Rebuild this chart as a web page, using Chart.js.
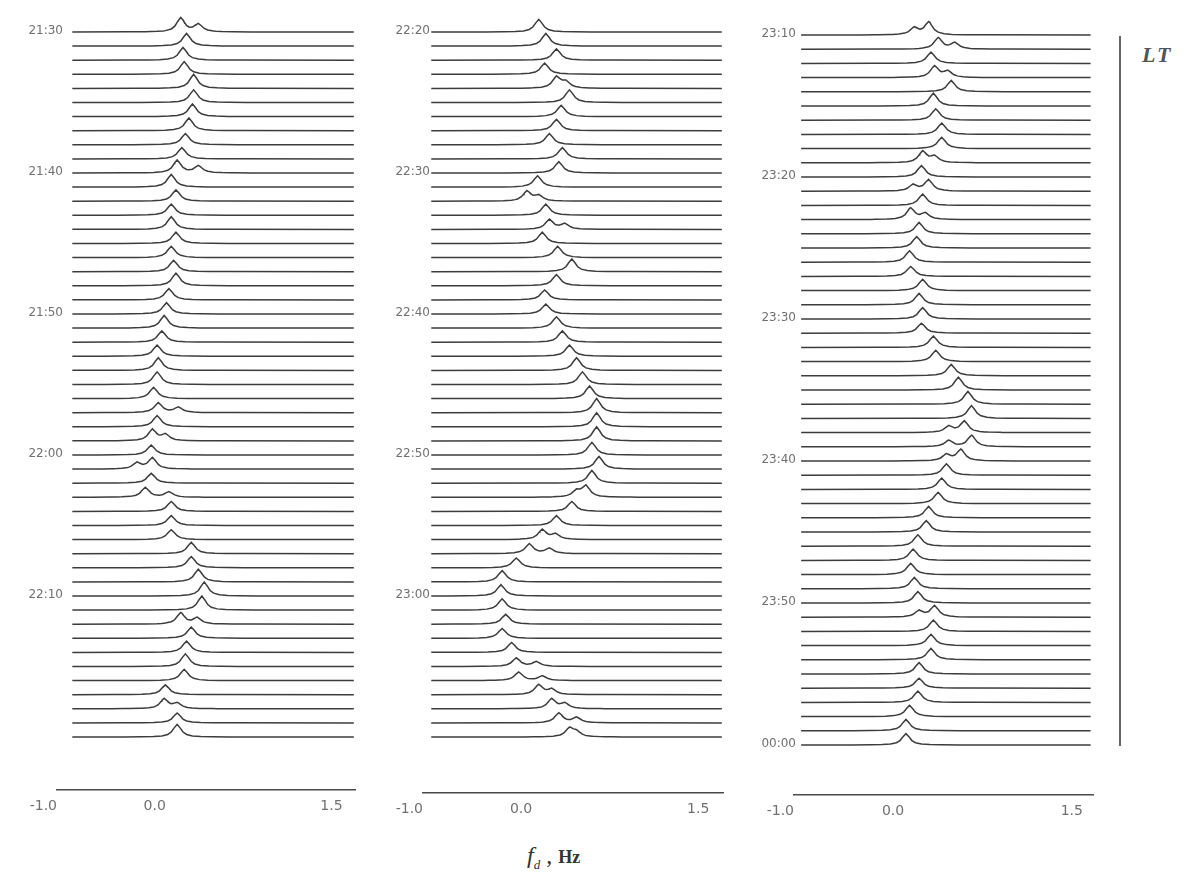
<!DOCTYPE html>
<html>
<head>
<meta charset="utf-8">
<script src="https://cdn.jsdelivr.net/npm/chart.js"></script>
<style>
  body { margin: 0; background: #fff; width: 1190px; height: 878px; position: relative; overflow: hidden; }
  canvas.panel { position: absolute; top: 0; }
  #ltLine { position: absolute; left: 1119px; top: 36px; width: 2px; height: 710px; background: #666; }
  #ltText { position: absolute; left: 1142px; top: 42px; font: italic bold 22px "Liberation Serif", serif; color: #555; letter-spacing: 2px; }
  #xTitle { position: absolute; left: 527px; top: 842px; font: 24px "Liberation Serif", serif; color: #333; }
  #xTitle sub { font-size: 13px; }
  #xTitle b { font-size: 18px; }
</style>
</head>
<body>
<canvas id="panel1" class="panel"></canvas>
<canvas id="panel2" class="panel"></canvas>
<canvas id="panel3" class="panel"></canvas>
<div id="ltLine"></div>
<div id="ltText">LT</div>
<div id="xTitle"><i>f</i><sub><i>d</i></sub> , <b>Hz</b></div>
<script>
// tick labels
const xTicks = [-1.0, 0.0, 1.5];
const p1Times = ['21:30', '21:40', '21:50', '22:00', '22:10'];
const p2Times = ['22:20', '22:30', '22:40', '22:50', '23:00'];
const p3Times = ['23:10', '23:20', '23:30', '23:40', '23:50', '00:00'];

// Doppler peak frequency (Hz) of each spectrum, one per minute
const p1Peak = [0.05, 0.10, 0.07, 0.08, 0.16, 0.16, 0.15, 0.12, 0.09, 0.06,
  0.02, -0.03, 0.01, -0.03, -0.03, 0.01, -0.03, -0.01, 0.01, -0.05,
  -0.07, -0.09, -0.11, -0.15, -0.14, -0.15, -0.18, -0.14, -0.15, -0.19,
  -0.20, -0.19, -0.20, -0.25, -0.03, -0.03, -0.03, 0.14, 0.14, 0.20,
  0.25, 0.23, 0.05, 0.14, 0.10, 0.09, 0.08, -0.08, -0.09, 0.02, 0.02];
const p2Peak = [-0.02, 0.04, 0.13, 0.03, 0.13, 0.24, 0.17, 0.13, 0.07, 0.18,
  0.15, -0.03, -0.12, 0.04, 0.07, 0.01, 0.14, 0.26, 0.13, 0.03,
  0.04, 0.13, 0.18, 0.24, 0.30, 0.35, 0.41, 0.47, 0.47, 0.47,
  0.43, 0.49, 0.43, 0.38, 0.26, 0.13, 0.01, -0.10, -0.21, -0.33,
  -0.34, -0.33, -0.30, -0.33, -0.25, -0.21, -0.19, -0.02, 0.09, 0.15, 0.24];
const p3Peak = [0.13, 0.21, 0.15, 0.18, 0.32, 0.17, 0.19, 0.24, 0.24, 0.08,
  0.07, 0.13, 0.08, -0.02, 0.05, 0.03, -0.03, -0.02, 0.08, 0.05,
  0.08, 0.07, 0.17, 0.19, 0.32, 0.38, 0.46, 0.49, 0.43, 0.49,
  0.40, 0.28, 0.24, 0.21, 0.13, 0.11, 0.04, 0.00, -0.02, 0.01,
  0.04, 0.18, 0.17, 0.15, 0.15, 0.05, 0.05, 0.04, -0.03, -0.06, -0.06];

// peak height, in units of the trace spacing
const p1Height = [1.0, 0.9, 0.9, 0.9, 1.0, 0.9, 0.9, 0.9, 0.8, 0.8,
  0.9, 0.9, 0.8, 0.8, 0.9, 0.8, 0.8, 0.8, 0.9, 0.8,
  0.8, 0.9, 0.8, 0.8, 0.9, 0.9, 0.8, 0.7, 0.8, 0.8,
  0.7, 0.8, 0.7, 0.7, 0.7, 0.7, 0.7, 0.8, 0.8, 0.9,
  1.0, 1.0, 0.8, 0.8, 0.8, 0.9, 0.8, 0.7, 0.7, 0.7, 0.9];
const p2Height = [0.9, 0.9, 0.8, 0.8, 0.8, 0.9, 0.8, 0.8, 0.8, 0.8,
  0.8, 0.8, 0.7, 0.8, 0.7, 0.8, 0.8, 0.9, 0.8, 0.7,
  0.7, 0.8, 0.8, 0.8, 0.9, 0.9, 0.9, 1.0, 1.0, 1.0,
  0.9, 0.9, 0.9, 0.8, 0.7, 0.7, 0.7, 0.7, 0.7, 0.8,
  0.8, 0.8, 0.7, 0.7, 0.7, 0.6, 0.6, 0.7, 0.7, 0.7, 0.6];
const p3Height = [0.9, 0.8, 0.8, 0.8, 0.8, 0.9, 0.8, 0.8, 0.8, 0.8,
  0.8, 0.8, 0.8, 0.8, 0.8, 0.8, 0.8, 0.7, 0.8, 0.8,
  0.8, 0.7, 0.8, 0.8, 0.8, 0.9, 0.9, 0.9, 0.8, 0.8,
  0.8, 0.8, 0.8, 0.8, 0.8, 0.8, 0.8, 0.8, 0.8, 0.8,
  0.8, 0.8, 0.8, 0.8, 0.8, 0.8, 0.7, 0.8, 0.8, 0.8, 0.8];

// secondary peaks (Hz), null where the spectrum has a single peak
const p1Second = [0.20, null, null, null, null, null, null, null, null, null,
  0.20, null, null, null, null, null, null, null, null, null,
  null, null, null, null, null, null, null, 0.03, null, -0.08,
  null, -0.32, null, -0.05, null, null, null, null, null, null,
  null, null, 0.19, null, null, null, null, null, 0.02, null, null];
const p2Second = [null, null, null, null, 0.21, null, null, null, null, null,
  null, null, -0.02, null, 0.20, null, null, null, null, null,
  null, null, null, null, null, null, null, null, null, null,
  null, null, null, 0.30, null, null, 0.12, 0.07, null, null,
  null, null, null, null, null, -0.04, 0.01, 0.09, 0.20, 0.30, 0.30];
const p3Second = [0.01, 0.35, null, 0.29, null, null, null, null, null, 0.18,
  null, 0.00, null, 0.10, null, null, null, null, null, null,
  null, null, null, null, null, null, null, null, 0.30, 0.30,
  0.28, null, null, null, null, null, null, null, null, null,
  null, 0.05, null, null, null, null, null, null, null, null, null];

const sampleOffsets = [-0.45, -0.3, -0.2, -0.13, -0.08, -0.05, -0.025, 0, 0.025, 0.05, 0.08, 0.13, 0.2, 0.3, 0.45];

function lorentz(dx) {
  const w = 0.04;
  return 1 / (1 + (dx / w) * (dx / w));
}

function buildTraces(peaks, heights, seconds, xStart, xEnd) {
  return peaks.map((f, i) => {
    const comps = [{ f: f, h: heights[i] }];
    if (seconds[i] !== null) comps.push({ f: seconds[i], h: heights[i] * 0.55 });
    let xs = [xStart, xEnd];
    comps.forEach(c => sampleOffsets.forEach(o => {
      const x = c.f + o;
      if (x > xStart && x < xEnd) xs.push(x);
    }));
    xs.sort((a, b) => a - b);
    const pts = xs.map(x => {
      let y = -i;
      comps.forEach(c => { y += c.h * lorentz(x - c.f); });
      return { x: x, y: y };
    });
    return {
      data: pts,
      borderColor: '#3c3c3c',
      borderWidth: 1.5,
      pointRadius: 0,
      tension: 0
    };
  });
}

// time labels sit just left of each tenth trace, inside the plot area
const timeLabelPlugin = {
  id: 'timeLabels',
  afterDraw(chart, args, o) {
    const ctx = chart.ctx;
    const ys = chart.scales.y;
    ctx.save();
    ctx.font = '12px "DejaVu Sans"';
    ctx.fillStyle = '#707070';
    ctx.textAlign = 'right';
    ctx.textBaseline = 'middle';
    o.times.forEach((t, k) => {
      ctx.fillText(t, chart.chartArea.left + o.gap, ys.getPixelForValue(-10 * k) - 1);
    });
    ctx.restore();
  }
};

function makePanel(id, opts) {
  const canvas = document.getElementById(id);
  const areaLeft = 66;
  const width = areaLeft + (opts.xMax + 1) * opts.pxPerHz + 4;
  const height = opts.axisY + 40;
  canvas.width = width;
  canvas.height = height;
  canvas.style.left = (opts.plotLeft - areaLeft) + 'px';
  const top = opts.trace0Y - 1.5 * opts.spacing;

  new Chart(canvas, {
    type: 'line',
    data: { datasets: buildTraces(opts.peaks, opts.heights, opts.seconds, opts.xStart, opts.xEnd) },
    plugins: [timeLabelPlugin],
    options: {
      responsive: false,
      animation: false,
      layout: { padding: { top: top, right: 4, left: 0, bottom: 0 } },
      plugins: {
        legend: { display: false },
        tooltip: { enabled: false },
        timeLabels: { times: opts.times, gap: opts.labelGap }
      },
      scales: {
        x: {
          type: 'linear',
          min: -1,
          max: opts.xMax,
          afterFit: s => { s.height = 40; },
          afterBuildTicks: s => { s.ticks = xTicks.map(v => ({ value: v })); },
          border: { display: true, color: '#4a4a4a', width: 1.5 },
          grid: { display: false },
          ticks: {
            align: 'end',
            padding: 0,
            color: '#707070',
            font: { family: 'DejaVu Sans', size: 14 },
            callback: v => v.toFixed(1) + (v === -1 ? '' : '  ')
          }
        },
        y: {
          type: 'linear',
          min: -(opts.axisY - opts.trace0Y) / opts.spacing,
          max: 1.5,
          afterFit: s => { s.width = areaLeft; },
          border: { display: false },
          grid: { display: false },
          ticks: { display: false }
        }
      }
    }
  });
}

makePanel('panel1', { plotLeft: 57, pxPerHz: 118, xMax: 1.53, trace0Y: 32, spacing: 14.1, axisY: 790, labelGap: 6,
  xStart: -0.87, xEnd: 1.52, peaks: p1Peak, heights: p1Height, seconds: p1Second, times: p1Times });
makePanel('panel2', { plotLeft: 423, pxPerHz: 118.5, xMax: 1.54, trace0Y: 32, spacing: 14.1, axisY: 793, labelGap: 7,
  xStart: -0.93, xEnd: 1.53, peaks: p2Peak, heights: p2Height, seconds: p2Second, times: p2Times });
makePanel('panel3', { plotLeft: 794, pxPerHz: 119.5, xMax: 1.51, trace0Y: 35, spacing: 14.2, axisY: 795, labelGap: 2,
  xStart: -0.94, xEnd: 1.49, peaks: p3Peak, heights: p3Height, seconds: p3Second, times: p3Times });
</script>
</body>
</html>
